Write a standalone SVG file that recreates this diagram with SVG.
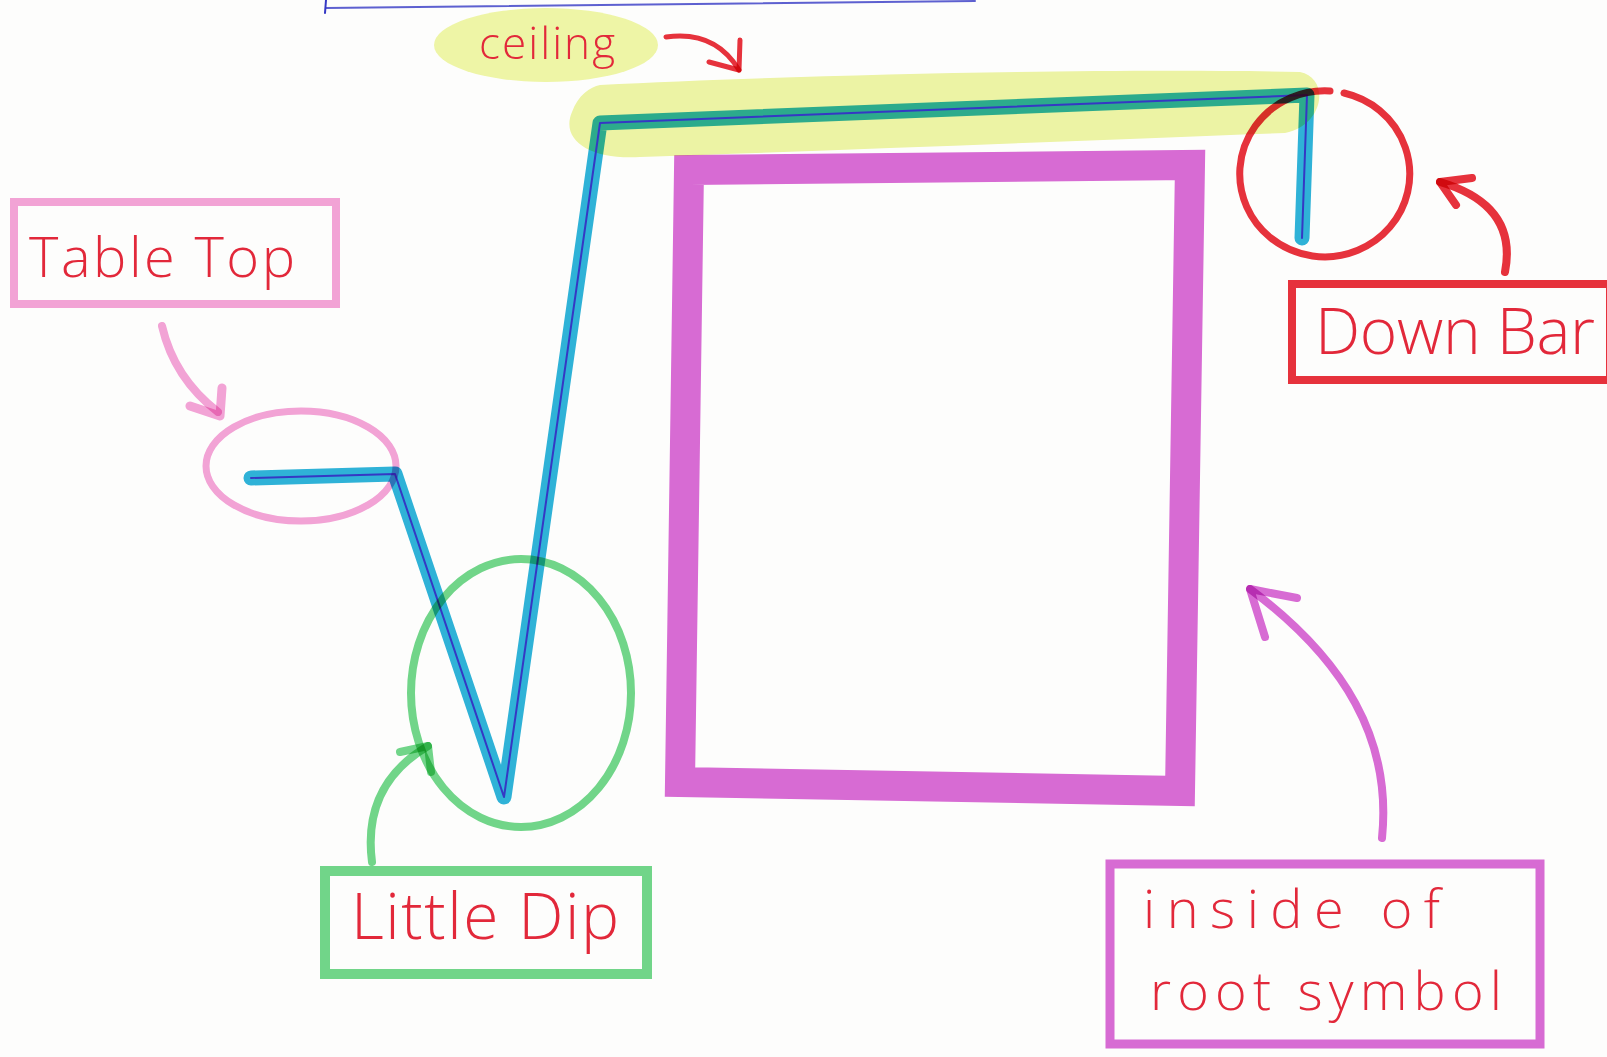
<svg xmlns="http://www.w3.org/2000/svg" width="1607" height="1057" viewBox="0 0 1607 1057">
<style>
.mk{fill:none;stroke-linecap:round;stroke-linejoin:round;mix-blend-mode:multiply}
.sq{stroke-linejoin:miter;stroke-linecap:butt}
.pink{stroke:#f4a4d8}
.green{stroke:#72d78b}
.red{stroke:#e8323c}
.mag{stroke:#d96cd6}
.cyan{stroke:#2fb4da}
.ink{fill:none;stroke:#3538c4;stroke-width:2;stroke-linecap:round;stroke-linejoin:round}
.lbl{font-family:"Open Sans","Liberation Sans",sans-serif;fill:#e2283a;font-weight:300}
</style>
<rect width="1607" height="1057" fill="#fdfdfc"/>

<g id="top-rule">
<path class="ink" d="M326,8 C520,6 760,3 975,1" opacity="0.8"/>
<path class="ink" d="M326,0 L325,13"/>
</g>

<g id="ceiling-highlight">
<path d="M600,85 C800,75 1100,68 1300,72 C1330,78 1325,125 1285,133 C1100,140 850,150 640,157 C590,160 560,140 572,112 C578,95 590,87 600,85 Z" fill="#eef5a6" style="mix-blend-mode:multiply"/>
</g>

<g id="ceiling-label">
<ellipse cx="546" cy="45" rx="112" ry="37" fill="#eef5a6"/>
<text class="lbl" x="479" y="59" font-size="44" textLength="136" lengthAdjust="spacing">ceiling</text>
</g>

<g id="inside-box">
<path class="mk mag sq" d="M689,170 L1190,165 L1180,791 L680,782 Z" stroke-width="30"/>
</g>

<g id="root-symbol">
<polyline class="mk cyan" points="251,478 395,474 504,797 600,123 1307,95 1302,238" stroke-width="15"/>
<polyline class="ink" points="251,478 395,474 504,797 600,123 1307,95 1302,238"/>
</g>

<g id="table-top-circle">
<ellipse class="mk pink" cx="301" cy="466" rx="95" ry="55" stroke-width="7"/>
</g>

<g id="little-dip-circle">
<ellipse class="mk green" cx="521" cy="693" rx="110" ry="134" stroke-width="8"/>
</g>

<g id="down-bar-circle">
<path class="mk red" d="M1330,91 A85,83 0 1,0 1344,93" stroke-width="7"/>
</g>

<g id="table-top">
<rect class="mk pink sq" x="14" y="202" width="322" height="102" stroke-width="8"/>
<text class="lbl" x="29" y="277" font-size="56" textLength="266" lengthAdjust="spacing">Table Top</text>
</g>

<g id="little-dip">
<rect class="mk green sq" x="325" y="871" width="322" height="103" stroke-width="10"/>
<text class="lbl" x="351" y="939" font-size="64" textLength="268" lengthAdjust="spacing">Little Dip</text>
</g>

<g id="down-bar">
<rect class="mk red sq" x="1292" y="284" width="318" height="96" stroke-width="8"/>
<text class="lbl" x="1315" y="354" font-size="64" textLength="280" lengthAdjust="spacing">Down Bar</text>
</g>

<g id="inside-of-root-symbol">
<rect class="mk mag sq" x="1110" y="864" width="430" height="180" stroke-width="9"/>
<text class="lbl" x="1143" y="928" font-size="54" textLength="297" lengthAdjust="spacing">inside of</text>
<text class="lbl" x="1150" y="1010" font-size="54" textLength="352" lengthAdjust="spacing">root symbol</text>
</g>

<g id="connectors">
<path class="mk red" d="M666,37 Q715,30 739,70" stroke-width="5"/>
<path class="mk red" d="M709,62 L739,70 L740,40" stroke-width="5"/>
<path class="mk pink" d="M162,326 Q174,378 218,412" stroke-width="8"/>
<path class="mk pink" d="M190,406 L220,416 L222,388" stroke-width="9"/>
<path class="mk green" d="M372,862 Q362,785 428,746" stroke-width="8"/>
<path class="mk green" d="M400,752 L428,746 L431,772" stroke-width="8"/>
<path class="mk red" d="M1505,272 Q1518,205 1440,182" stroke-width="8"/>
<path class="mk red" d="M1472,178 L1440,182 L1456,205" stroke-width="8"/>
<path class="mk mag" d="M1382,838 C1392,740 1345,660 1250,589" stroke-width="8"/>
<path class="mk mag" d="M1297,598 L1250,589 L1265,637" stroke-width="8"/>
</g>
</svg>
